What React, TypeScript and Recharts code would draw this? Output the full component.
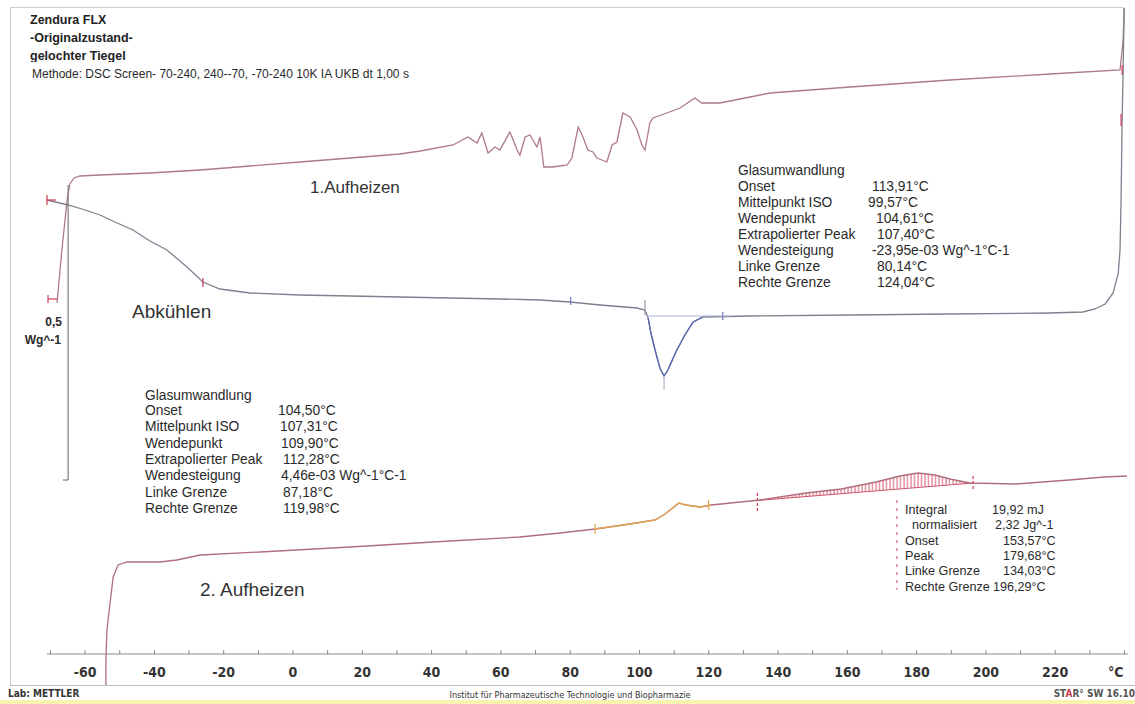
import React from "react";
import { ComposedChart, Line, Area, XAxis, YAxis, ReferenceLine } from "recharts";

// temperature (°C) / heat flow (W/g, with curve offsets as plotted)
const heating1: [number, number][] = [
  [-68.1, 0.702], [-67.5, 0.748], [-66.7, 0.808], [-65.8, 0.868], [-65.2, 0.908], [-64.4, 0.94],
  [-63.2, 0.952], [-61.5, 0.956], [-55.7, 0.958], [-41.3, 0.962], [-26.8, 0.968], [-12.4, 0.976],
  [2.0, 0.984], [16.5, 0.992], [30.9, 1.0], [36.7, 1.006], [46.2, 1.018], [50.5, 1.034],
  [53.1, 1.022], [54.5, 1.042], [56.3, 1.002], [58.3, 1.014], [59.7, 1.008], [62.6, 1.044],
  [64.7, 1.008], [65.5, 0.998], [67.0, 1.034], [68.4, 1.038], [70.4, 1.014], [71.3, 1.034],
  [72.4, 0.974], [75.0, 0.974], [79.1, 0.978], [80.5, 0.992], [82.3, 1.054], [83.7, 1.034],
  [85.1, 1.008], [86.6, 1.004], [87.7, 0.992], [90.6, 0.984], [92.1, 1.018], [93.5, 1.024],
  [95.2, 1.082], [97.3, 1.074], [99.3, 1.048], [100.7, 1.018], [101.6, 1.008], [103.0, 1.062],
  [103.9, 1.072], [107.9, 1.082], [111.7, 1.092], [116.0, 1.112], [118.0, 1.102], [123.2, 1.102],
  [137.7, 1.122], [160.8, 1.134], [189.6, 1.148], [218.5, 1.16], [238.7, 1.168], [239.6, 1.228],
  [239.9, 1.292],
];

const cooling: [number, number][] = [
  [239.9, 1.292], [239.6, 1.168], [239.3, 1.068], [239.0, 0.908], [238.7, 0.808], [238.2, 0.762],
  [236.7, 0.722], [234.4, 0.7], [231.5, 0.69], [228.0, 0.684], [218.5, 0.682], [189.6, 0.68],
  [160.8, 0.678], [131.9, 0.676], [118.3, 0.674], [115.5, 0.664], [113.1, 0.638], [110.5, 0.604],
  [108.2, 0.568], [107.1, 0.556], [105.9, 0.572], [104.5, 0.608], [103.3, 0.642], [102.5, 0.672],
  [101.6, 0.688], [99.3, 0.692], [88.6, 0.698], [79.9, 0.704], [71.3, 0.708], [59.7, 0.71],
  [30.9, 0.714], [2.0, 0.718], [-12.4, 0.722], [-21.1, 0.73], [-26.0, 0.744], [-30.6, 0.774],
  [-36.4, 0.808], [-41.3, 0.826], [-46.2, 0.848], [-51.4, 0.864], [-55.7, 0.878], [-60.0, 0.888],
  [-64.9, 0.898], [-71.0, 0.908],
];

const crystPeak: [number, number][] = [
  [118.3, 0.674], [115.5, 0.664], [113.1, 0.638], [110.5, 0.604], [108.2, 0.568], [107.1, 0.556],
  [105.9, 0.572], [104.5, 0.608], [103.3, 0.642], [102.5, 0.672],
];

const heating2: [number, number][] = [
  [-54.0, -0.062], [-54.0, -0.012], [-53.7, 0.048], [-52.8, 0.102], [-51.9, 0.154], [-50.5, 0.178],
  [-47.9, 0.184], [-38.4, 0.184], [-33.5, 0.188], [-26.8, 0.198], [-9.5, 0.204], [16.5, 0.214],
  [45.3, 0.226], [65.5, 0.234], [77.1, 0.242], [87.2, 0.25], [97.3, 0.26], [104.5, 0.268],
  [107.4, 0.28], [111.4, 0.302], [113.4, 0.298], [117.5, 0.294], [120.7, 0.298], [134.8, 0.308],
  [148.1, 0.322], [158.2, 0.33], [168.3, 0.344], [175.2, 0.356], [180.4, 0.362], [185.3, 0.358],
  [189.6, 0.35], [195.4, 0.342], [208.7, 0.34], [224.0, 0.348], [234.1, 0.354], [240.7, 0.356],
];

const glassStep: [number, number][] = [
  [87.2, 0.25], [97.3, 0.26], [104.5, 0.268], [107.4, 0.28], [111.4, 0.302], [113.4, 0.298],
  [117.5, 0.294], [120.7, 0.298],
];

// T, baseline, curve
const meltArea: [number, number, number][] = [
  [134.8, 0.307, 0.308], [148.1, 0.315, 0.322], [158.2, 0.321, 0.33], [168.3, 0.327, 0.344],
  [175.2, 0.331, 0.356], [180.4, 0.334, 0.362], [185.3, 0.336, 0.358], [189.6, 0.339, 0.35],
  [195.4, 0.342, 0.342],
];
const meltBase: [number, number][] = [[134.0, 0.307], [196.3, 0.342]];

const tempTicks = [
  -70, -60, -50, -40, -30, -20, -10, 0, 10, 20, 30, 40, 50, 60, 70, 80, 90, 100, 110, 120, 130,
  140, 150, 160, 170, 180, 190, 200, 210, 220, 230, 240,
];

const titleLines = ["Zendura FLX", "-Originalzustand-", "gelochter Tiegel"];
const methodLine = "Methode: DSC Screen- 70-240, 240--70, -70-240 10K IA UKB dt 1,00 s";

const coolTg = [
  ["Onset", "113,91°C"],
  ["Mittelpunkt ISO", "99,57°C"],
  ["Wendepunkt", "104,61°C"],
  ["Extrapolierter Peak", "107,40°C"],
  ["Wendesteigung", "-23,95e-03 Wg^-1°C-1"],
  ["Linke Grenze", "80,14°C"],
  ["Rechte Grenze", "124,04°C"],
];
const coolTgValX = [872, 868, 876, 877, 872, 877, 877];

const heatTg = [
  ["Onset", "104,50°C"],
  ["Mittelpunkt ISO", "107,31°C"],
  ["Wendepunkt", "109,90°C"],
  ["Extrapolierter Peak", "112,28°C"],
  ["Wendesteigung", "4,46e-03 Wg^-1°C-1"],
  ["Linke Grenze", "87,18°C"],
  ["Rechte Grenze", "119,98°C"],
];
const heatTgValX = [278, 280, 281, 283, 281, 283, 283];

const meltInfo = [
  ["Integral", "19,92 mJ"],
  ["  normalisiert", "2,32 Jg^-1"],
  ["Onset", "153,57°C"],
  ["Peak", "179,68°C"],
  ["Linke Grenze", "134,03°C"],
  ["Rechte Grenze", "196,29°C"],
];
const meltValX = [992, 995, 1003, 1003, 1003, 993];

const rows = (pts: [number, number][]) => pts.map(([t, q]) => ({ t, q }));

const SANS = "'Liberation Sans', Arial, sans-serif";
const NARROW = "'Liberation Sans Narrow', 'DejaVu Sans Condensed', sans-serif";
const AXIS_GAP = 34; // temperature axis sits on the 0 line, above the plot bottom

function TempTick(props: any) {
  const { x, y, payload } = props;
  const v = payload.value;
  const major = v % 20 === 0 && v >= -60 && v <= 220;
  const ay = y - AXIS_GAP;
  return (
    <g>
      <line x1={x} x2={x} y1={ay - 4} y2={ay} stroke="#8a8a8a" strokeWidth={1} />
      {major && (
        <text x={x} y={ay + 23} textAnchor="middle" fontFamily={NARROW} fontWeight="bold" fontSize={14} fill="#333">
          {v}
        </text>
      )}
    </g>
  );
}

function Label({ left, cy, children, style }: { left: number; cy: number; children: React.ReactNode; style?: React.CSSProperties }) {
  return (
    <div
      style={{
        position: "absolute",
        left,
        top: cy - 9,
        lineHeight: "18px",
        whiteSpace: "pre",
        fontFamily: SANS,
        fontSize: 13.8,
        color: "#2a2a2a",
        ...style,
      }}
    >
      {children}
    </div>
  );
}

function Mark({ x1, y1, x2, y2, color, dash }: { x1: number; y1: number; x2: number; y2: number; color: string; dash?: string }) {
  return (
    <ReferenceLine
      segment={[{ x: x1, y: y1 }, { x: x2, y: y2 }]}
      stroke={color}
      strokeWidth={1.2}
      strokeDasharray={dash}
      ifOverflow="visible"
    />
  );
}

export default function App() {
  return (
    <div style={{ position: "relative", width: 1135, height: 704, background: "#fff", overflow: "hidden" }}>
      <style>{"body{margin:0}"}</style>

      {/* frame */}
      <div style={{ position: "absolute", left: 10, top: 7, width: 1114, height: 1, background: "#cfcfcf" }} />
      <div style={{ position: "absolute", left: 10, top: 7, width: 1, height: 678, background: "#cfcfcf" }} />
      <div style={{ position: "absolute", left: 10, top: 685, width: 1125, height: 1, background: "#bdbdbd" }} />
      <div style={{ position: "absolute", left: 0, top: 700, width: 1135, height: 4, background: "#f8f4b0" }} />

      <ComposedChart width={1135} height={704} margin={{ top: 0, right: 7, bottom: 0, left: 47 }}>
        <defs>
          <pattern id="hatch" width="3.5" height="6" patternUnits="userSpaceOnUse">
            <line x1="1" y1="0" x2="1" y2="6" stroke="#cf4a5e" strokeWidth="0.9" />
          </pattern>
        </defs>
        <XAxis
          dataKey="t"
          type="number"
          domain={[-71, 241]}
          ticks={tempTicks}
          interval={0}
          tick={(p: any) => <TempTick {...p} />}
          tickLine={false}
          tickSize={0}
          tickMargin={0}
          axisLine={false}
          height={16}
        />
        <YAxis hide type="number" domain={[-0.068, 1.308]} />
        <ReferenceLine y={0} stroke="#8a8a8a" strokeWidth={1} />

        <Area
          data={meltArea.map(([t, lo, hi]) => ({ t, r: [lo, hi] }))}
          dataKey="r"
          type="linear"
          fill="url(#hatch)"
          fillOpacity={1}
          stroke="none"
          isAnimationActive={false}
        />
        <Line data={rows(meltBase)} dataKey="q" type="linear" dot={false} stroke="#d0506a" strokeWidth={1} isAnimationActive={false} />

        <Line data={rows(heating1)} dataKey="q" type="linear" dot={false} stroke="#ad7a85" strokeWidth={1.3} isAnimationActive={false} />
        <Line data={rows(cooling)} dataKey="q" type="linear" dot={false} stroke="#7d808e" strokeWidth={1.3} isAnimationActive={false} />
        <Line data={rows(crystPeak)} dataKey="q" type="linear" dot={false} stroke="#5866b6" strokeWidth={1.3} isAnimationActive={false} />
        <Line data={rows(heating2)} dataKey="q" type="linear" dot={false} stroke="#b06e7c" strokeWidth={1.3} isAnimationActive={false} />
        <Line data={rows(glassStep)} dataKey="q" type="linear" dot={false} stroke="#e2a452" strokeWidth={1.4} isAnimationActive={false} />

        {/* 0,5 W/g scale bar */}
        {Mark({ x1: -64.9, y1: 0.938, x2: -64.9, y2: 0.348, color: "#7c7c7c" })}
        {Mark({ x1: -66.4, y1: 0.348, x2: -64.9, y2: 0.348, color: "#7c7c7c" })}

        {/* evaluation limits */}
        {Mark({ x1: -70.7, y1: 0.718, x2: -70.7, y2: 0.702, color: "#d03c52" })}
        {Mark({ x1: -70.7, y1: 0.71, x2: -68.1, y2: 0.71, color: "#d03c52" })}
        {Mark({ x1: -71.0, y1: 0.918, x2: -71.0, y2: 0.898, color: "#d03c52" })}
        {Mark({ x1: -71.0, y1: 0.908, x2: -68.4, y2: 0.908, color: "#d03c52" })}
        {Mark({ x1: -26.0, y1: 0.752, x2: -26.0, y2: 0.734, color: "#d03c52" })}
        {Mark({ x1: 239.3, y1: 1.178, x2: 239.3, y2: 1.158, color: "#d03c52" })}
        {Mark({ x1: 239.0, y1: 1.08, x2: 239.0, y2: 1.056, color: "#d03c52" })}
        {Mark({ x1: 80.14, y1: 0.714, x2: 80.14, y2: 0.698, color: "#6d78c0" })}
        {Mark({ x1: 124.04, y1: 0.684, x2: 124.04, y2: 0.668, color: "#6d78c0" })}
        {Mark({ x1: 101.6, y1: 0.708, x2: 101.6, y2: 0.678, color: "#9a9aa8" })}
        {Mark({ x1: 102.5, y1: 0.676, x2: 126.1, y2: 0.676, color: "#aab2dc" })}
        {Mark({ x1: 107.1, y1: 0.556, x2: 107.1, y2: 0.528, color: "#b0b4d0" })}
        {Mark({ x1: 87.18, y1: 0.26, x2: 87.18, y2: 0.24, color: "#e2a452" })}
        {Mark({ x1: 119.98, y1: 0.308, x2: 119.98, y2: 0.288, color: "#e2a452" })}
        {Mark({ x1: 134.03, y1: 0.322, x2: 134.03, y2: 0.286, color: "#d03c52", dash: "3 2" })}
        {Mark({ x1: 196.29, y1: 0.356, x2: 196.29, y2: 0.33, color: "#d03c52", dash: "3 2" })}
        {Mark({ x1: 174.3, y1: 0.308, x2: 174.3, y2: 0.128, color: "#d86a7a", dash: "3 5" })}
      </ComposedChart>

      {/* header */}
      {titleLines.map((s, i) => (
        <div key={s} style={{ position: "absolute", left: 30, top: 11 + i * 18, height: i === 2 ? 15 : 18, overflow: "hidden" }}>
          <div style={{ fontFamily: SANS, fontWeight: "bold", fontSize: 12.5, lineHeight: "18px", color: "#222" }}>{s}</div>
        </div>
      ))}
      <Label left={32} cy={74} style={{ fontSize: 12 }}>{methodLine}</Label>

      <Label left={310} cy={188} style={{ fontSize: 17, color: "#333" }}>1.Aufheizen</Label>
      <Label left={132} cy={312} style={{ fontSize: 19, color: "#333" }}>Abkühlen</Label>
      <Label left={200} cy={590} style={{ fontSize: 19, color: "#333" }}>2. Aufheizen</Label>

      <Label left={0} cy={322} style={{ width: 62, textAlign: "right", fontWeight: "bold", fontSize: 12 }}>0,5</Label>
      <Label left={0} cy={340} style={{ width: 61, textAlign: "right", fontWeight: "bold", fontSize: 12 }}>Wg^-1</Label>

      {/* Glasumwandlung (Abkühlen) */}
      <Label left={738} cy={171}>Glasumwandlung</Label>
      {coolTg.map(([k, v], i) => (
        <React.Fragment key={k}>
          <Label left={738} cy={187 + i * 16}>{k}</Label>
          <Label left={coolTgValX[i]} cy={187 + i * 16}>{v}</Label>
        </React.Fragment>
      ))}

      {/* Glasumwandlung (2. Aufheizen) */}
      <Label left={145} cy={396}>Glasumwandlung</Label>
      {heatTg.map(([k, v], i) => (
        <React.Fragment key={k}>
          <Label left={145} cy={411 + i * 16.3}>{k}</Label>
          <Label left={heatTgValX[i]} cy={411 + i * 16.3}>{v}</Label>
        </React.Fragment>
      ))}

      {/* Integral */}
      {meltInfo.map(([k, v], i) => (
        <React.Fragment key={k}>
          <Label left={905} cy={510 + i * 15.3} style={{ fontSize: 12.6 }}>{k}</Label>
          <Label left={meltValX[i]} cy={510 + i * 15.3} style={{ fontSize: 12.6 }}>{v}</Label>
        </React.Fragment>
      ))}

      <Label left={1108} cy={672} style={{ fontFamily: NARROW, fontWeight: "bold", fontSize: 14, color: "#333" }}>°C</Label>

      {/* footer */}
      <Label left={8} cy={694} style={{ fontFamily: NARROW, fontWeight: "bold", fontSize: 10, color: "#333" }}>Lab: METTLER</Label>
      <Label left={0} cy={695} style={{ width: 1140, textAlign: "center", fontFamily: NARROW, fontSize: 9, color: "#333" }}>
        Institut für Pharmazeutische Technologie und Biopharmazie
      </Label>
      <Label left={1040} cy={694} style={{ width: 95, textAlign: "right", fontFamily: NARROW, fontWeight: "bold", fontSize: 10, color: "#555" }}>
        ST<span style={{ color: "#d03c52" }}>A</span>R° SW 16.10
      </Label>
    </div>
  );
}
